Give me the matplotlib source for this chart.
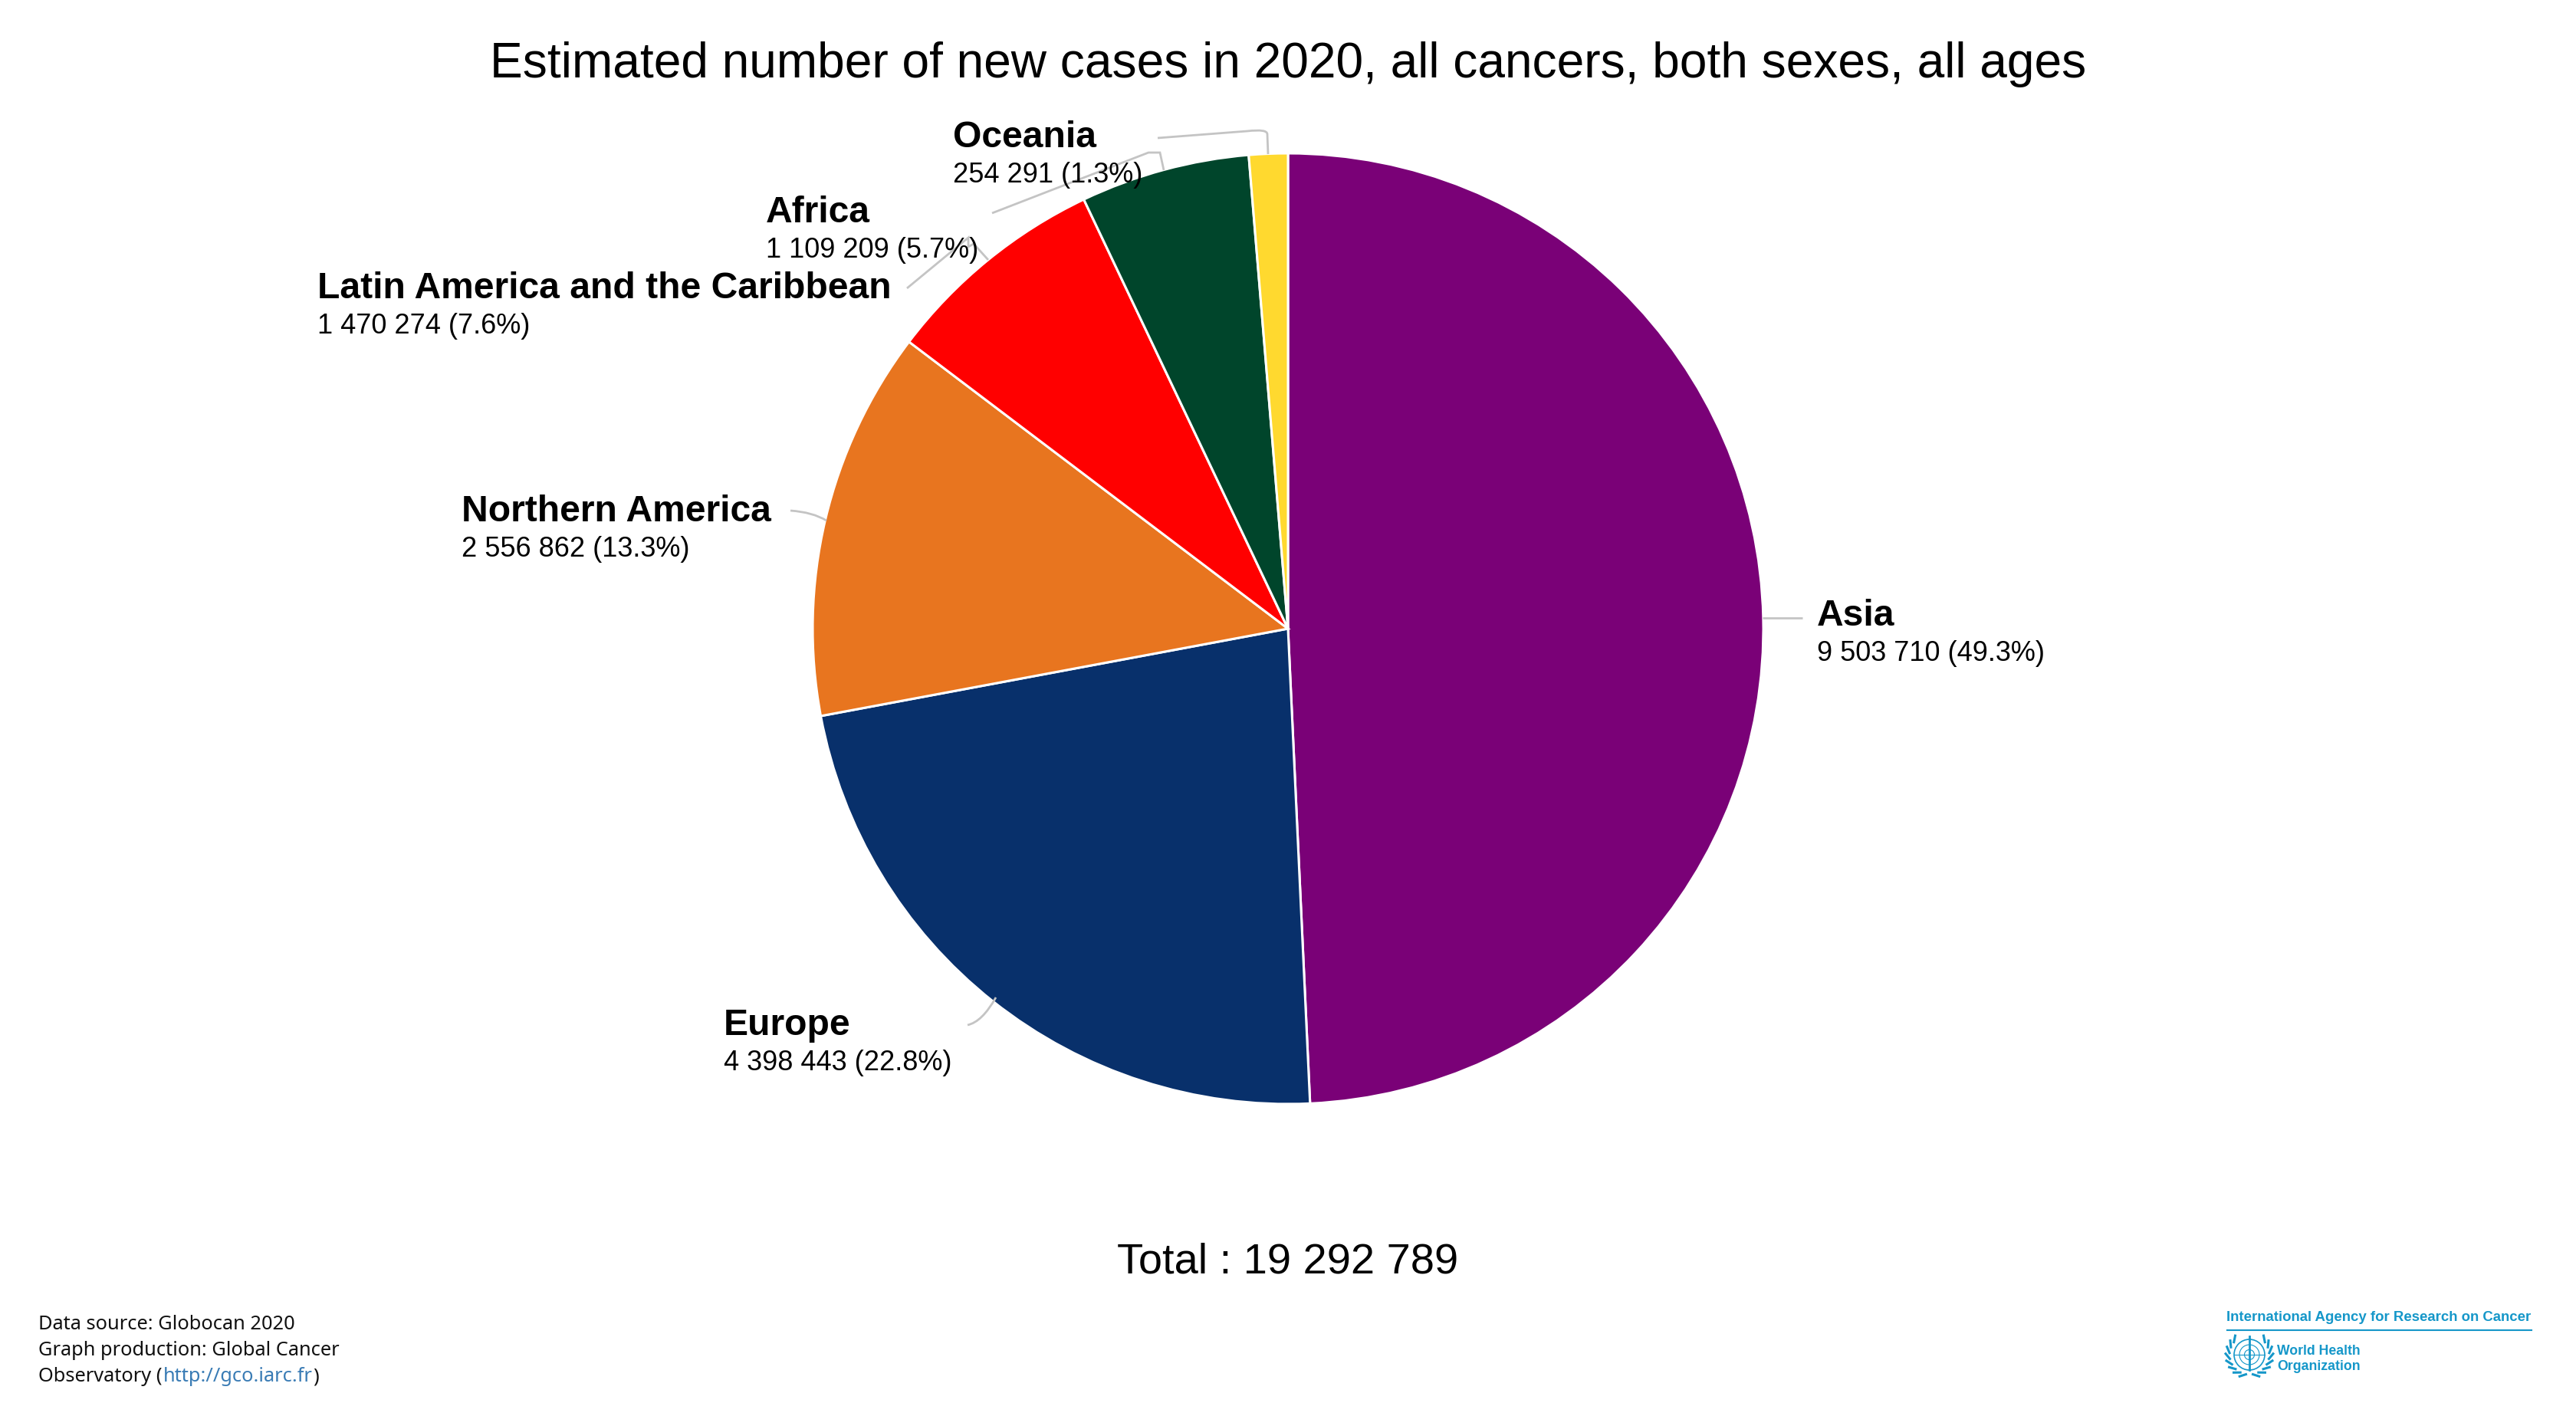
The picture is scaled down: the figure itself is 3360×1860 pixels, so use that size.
import numpy as np
import matplotlib
matplotlib.use("Agg")
import matplotlib.pyplot as plt
from matplotlib.path import Path
from matplotlib.patches import PathPatch, Circle

regions = ["Asia", "Europe", "Northern America", "Latin America and the Caribbean", "Africa", "Oceania"]
cases = [9503710, 4398443, 2556862, 1470274, 1109209, 254291]
shares = [49.3, 22.8, 13.3, 7.6, 5.7, 1.3]
colors = ["#7a0177", "#08306b", "#e8751f", "#ff0000", "#00452b", "#ffd92f"]
label_left = [2370, 944, 602, 414, 999, 1243]
label_base = [816, 1350, 680, 389, 290, 192]
total = 19292789
SANS = "Liberation Sans"
W, H = 3360, 1860


def fmt(n):
    return f"{n:,}".replace(",", " ")


fig = plt.figure(figsize=(33.6, 18.6), dpi=100, facecolor="white")
ax = fig.add_axes([0, 0, 1, 1])
ax.pie(cases, colors=colors, startangle=90, counterclock=False, radius=620, center=(1680, H - 820),
       wedgeprops=dict(edgecolor="white", linewidth=2.2))
ax.set_xlim(0, W)
ax.set_ylim(0, H)
ax.set_aspect("equal")
ax.axis("off")

# leader lines (pixel layout, top-left origin)
M, C = Path.MOVETO, Path.CURVE3
L = Path.LINETO
leaders = [
    ([(2299, 806), (2351, 806)], [M, L]),
    ([(1262, 1337), (1281, 1333), (1299, 1301)], [M, C, C]),
    ([(1031, 666), (1060, 668), (1078, 679)], [M, C, C]),
    ([(1183, 376), (1263, 310), (1263, 322), (1263, 322), (1270, 318), (1289, 339)], [M, L, L, L, L, L]),
    ([(1294, 278), (1498, 199), (1513, 199), (1518, 222)], [M, L, L, L]),
    ([(1510, 180), (1627, 171), (1627, 171), (1653, 168), (1653, 175), (1654, 201)], [M, L, L, C, C, L]),
]
for verts, codes in leaders:
    p = Path([(x, H - y) for x, y in verts], codes)
    ax.add_patch(PathPatch(p, fill=False, edgecolor="#c4c4c4", linewidth=2, zorder=3))

for name, n, s, x, y in zip(regions, cases, shares, label_left, label_base):
    ax.text(x, H - y, name, family=SANS, fontweight="bold", fontsize=34.6, va="baseline", ha="left", color="black", zorder=5)
    ax.text(x, H - y - 46, f"{fmt(n)} ({s}%)", family=SANS, fontsize=26, va="baseline", ha="left", color="black", zorder=5)

ax.text(1680, H - 101, "Estimated number of new cases in 2020, all cancers, both sexes, all ages",
        family=SANS, fontsize=46.05, ha="center", va="baseline", color="black")
ax.text(1680, H - 1660, f"Total : {fmt(total)}", family=SANS, fontsize=40.3, ha="center", va="baseline", color="black")

# footer
FOOT = "Noto Sans"
fs = 18.3
ax.text(50, H - 1734, "Data source: Globocan 2020", family=FOOT, fontsize=fs, va="baseline", color="#111111")
ax.text(50, H - 1768, "Graph production: Global Cancer", family=FOOT, fontsize=fs, va="baseline", color="#111111")
t1 = ax.text(50, H - 1802, "Observatory (", family=FOOT, fontsize=fs, va="baseline", color="#111111")
fig.canvas.draw()
r = fig.canvas.get_renderer()
x1 = t1.get_window_extent(r).x1 + 1
t2 = ax.text(x1, H - 1802, "http://gco.iarc.fr", family=FOOT, fontsize=fs, va="baseline", color="#3a7cb5")
x2 = t2.get_window_extent(r).x1 + 1
ax.text(x2, H - 1802, ")", family=FOOT, fontsize=fs, va="baseline", color="#111111")

# logo: no condensed family is installed, so the text is sized to the reference width
BLUE = "#1597c9"


def fitted(x, y, s, width):
    t = ax.text(x, H - y, s, family=SANS, fontweight="bold", fontsize=20, color=BLUE, va="baseline")
    t.set_fontsize(20 * width / t.get_window_extent(r).width)
    return t


fitted(2904, 1723, "International Agency for Research on Cancer", 400)
ax.plot([2905, 3302], [H - 1735, H - 1735], color=BLUE, lw=1.5)
fitted(2970, 1767, "World Health", 108)
fitted(2970, 1787, "Organization", 108)
cx, cy = 2934, H - 1767
for rad, lw in [(20, 1.2), (13, 0.8), (6.5, 0.8)]:
    ax.add_patch(Circle((cx, cy), rad, fill=False, edgecolor=BLUE, linewidth=lw))
ax.plot([cx, cx], [cy - 20, cy + 24], color=BLUE, lw=2)
ax.plot([cx - 20, cx + 20], [cy, cy], color=BLUE, lw=0.8)
for sign in (-1, 1):
    for ang in np.radians(np.arange(-80, 45, 17)):
        x0, y0 = 26 * np.cos(ang), 26 * np.sin(ang)
        x_1, y_1 = 31 * np.cos(ang + 0.25), 31 * np.sin(ang + 0.25)
        ax.plot([cx + sign * x0, cx + sign * x_1], [cy + y0, cy + y_1], color=BLUE, lw=2.2)

fig.savefig("out.png", dpi=100)
